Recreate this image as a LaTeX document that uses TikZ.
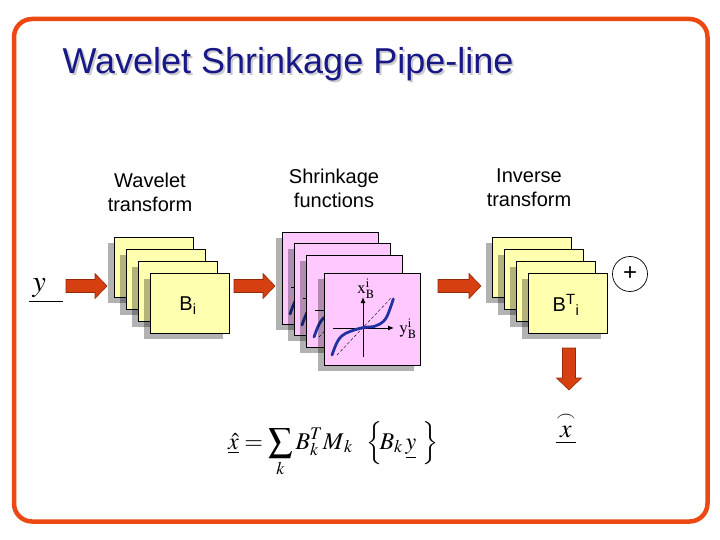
\documentclass[tikz,border=0pt]{standalone}
\usepackage{mathptmx}
\usepackage[no-math]{fontspec}
\setmainfont{Liberation Sans}
\usetikzlibrary{arrows.meta}
\definecolor{brd}{RGB}{235,72,20}
\definecolor{navy}{RGB}{24,24,135}
\definecolor{yel}{RGB}{255,255,176}
\definecolor{pnk}{RGB}{255,200,255}
\definecolor{arr}{RGB}{214,64,16}
\definecolor{arrd}{RGB}{150,40,10}
\definecolor{crv}{RGB}{30,50,160}
\tikzset{
  ybox/.style={draw=black, line width=0.8pt, fill=yel, minimum width=79pt, minimum height=60pt, inner sep=0pt, anchor=north west},
  pbox/.style={draw=black, line width=0.8pt, fill=pnk, minimum width=96pt, minimum height=92pt, inner sep=0pt, anchor=north west},
  shad/.style={fill=black, fill opacity=0.3},
  blockarrow/.style={fill=arr, draw=arrd, line width=0.6pt, line join=miter},
  lbl/.style={font=\fontsize{20}{24}\selectfont, align=center},
  axis/.style={line width=1pt, -{Latex[length=6pt,width=5pt]}},
}
\newcommand{\ystackbox}[3]{%
  \fill[shad] (#2-6,#3+6) rectangle ++(79,60);
  \node[ybox] (#1) at (#2,#3) {};}
\newcommand{\pstackbox}[3]{%
  \fill[shad] (#2-6,#3+6) rectangle ++(96,92);
  \node[pbox] (#1) at (#2,#3) {};
  \begin{scope}[shift={(#1.north west)}]
    \draw[densely dashed, line width=0.4pt] (13,82) -- (68,24);
    \draw[axis] (39,84) -- (39,24);
    \draw[axis] (9,55) -- (70,55);
    \draw[crv, line width=2.8pt, line cap=round] plot[smooth, tension=0.6] coordinates {(8,82) (12.7,70) (17.7,63) (26,58.5) (38.7,54.7) (50,53.5) (56,51) (62.7,44) (69.3,26)};
  \end{scope}}
% right-pointing block arrow: name, x start, x tip, y centre
\newcommand{\rarrow}[4]{%
  \coordinate (#1) at (#2,#4);
  \draw[blockarrow] (#1) ++(0,-6.5) -- (#3-12,#4-6.5) -- (#3-12,#4-12.5) -- (#3,#4) -- (#3-12,#4+12.5) -- (#3-12,#4+6.5) -- (#2,#4+6.5) -- cycle;}
% down-pointing block arrow: name, x centre, y start, y tip
\newcommand{\darrow}[4]{%
  \coordinate (#1) at (#2,#3);
  \draw[blockarrow] (#1) ++(-6.5,0) -- (#2-6.5,#4-12) -- (#2-12.5,#4-12) -- (#2,#4) -- (#2+12.5,#4-12) -- (#2+6.5,#4-12) -- (#2+6.5,#3) -- cycle;}
\begin{document}
\begin{tikzpicture}[x=1pt,y=-1pt]
\useasboundingbox (0,0) rectangle (720,540);
\fill[white] (0,0) rectangle (720,540);
\draw[brd, line width=4.5pt, rounded corners=18pt] (14,19) rectangle (707.5,521.5);

% title
\node[anchor=base west, font=\fontsize{36}{40}\selectfont, text=black!20] (titleshadow) at (61,76) {Wavelet Shrinkage Pipe-line};
\node[anchor=base west, font=\fontsize{36}{40}\selectfont, text=navy] (title) at (59,74) {Wavelet Shrinkage Pipe-line};

% stage labels
\node[lbl] (lwt) at (150,192) {Wavelet\\transform};
\node[lbl] (lsf) at (334,188) {Shrinkage\\functions};
\node[lbl] (lit) at (529,188) {Inverse\\transform};

% input
\node[font=\fontsize{30}{30}\selectfont, inner sep=0pt] (yin) at (46,291) {$\underline{\,y\hspace{17pt}}$};

% wavelet transform stack
\ystackbox{w1}{114}{237}
\ystackbox{w2}{126}{249}
\ystackbox{w3}{138}{261}
\ystackbox{w4}{150}{273}
\node[font=\fontsize{20}{24}\selectfont] (bi) at (188,306) {B\textsubscript{i}};

% shrinkage stack
\pstackbox{s1}{282}{232}
\pstackbox{s2}{294}{243}
\pstackbox{s3}{306}{255}
\pstackbox{s4}{324}{273}
\node[font=\fontsize{17}{20}\selectfont, inner sep=0pt] (xl) at ([shift={(42,16)}]s4.north west) {$\mathrm{x}^{\mathrm{i}}_{\mathrm{B}}$};
\node[font=\fontsize{17}{20}\selectfont, inner sep=0pt] (yl) at ([shift={(84,56)}]s4.north west) {$\mathrm{y}^{\mathrm{i}}_{\mathrm{B}}$};

% inverse stack
\ystackbox{v1}{492}{237}
\ystackbox{v2}{504}{249}
\ystackbox{v3}{516}{261}
\ystackbox{v4}{528}{273}
\node[font=\fontsize{20}{24}\selectfont] (bti) at (566,305) {B\textsuperscript{T}\textsubscript{i}};

\node[circle, draw=black, line width=0.7pt, minimum size=35pt, inner sep=0pt, font=\fontsize{24}{24}\selectfont] (plus) at (630,274) {+};

% arrows
\rarrow{a1}{66}{107}{286}
\rarrow{a2}{234}{275}{286}
\rarrow{a3}{438}{481}{286}
\darrow{a4}{569}{348}{390}

% output
\node[font=\fontsize{26}{28}\selectfont, inner sep=0pt] (xout) at (566,428) {$\underline{\stackrel{\frown}{x}}$};

% formula
\node[anchor=base west, font=\fontsize{24}{28}\selectfont, inner sep=0pt] (formula) at (228,449) {$\underline{\hat{x}} = \displaystyle\sum_{k} B_k^T M_{\,k}\ \ \Big\{\!B_k\,\underline{y}\ \Big\}$};
\end{tikzpicture}
\end{document}
